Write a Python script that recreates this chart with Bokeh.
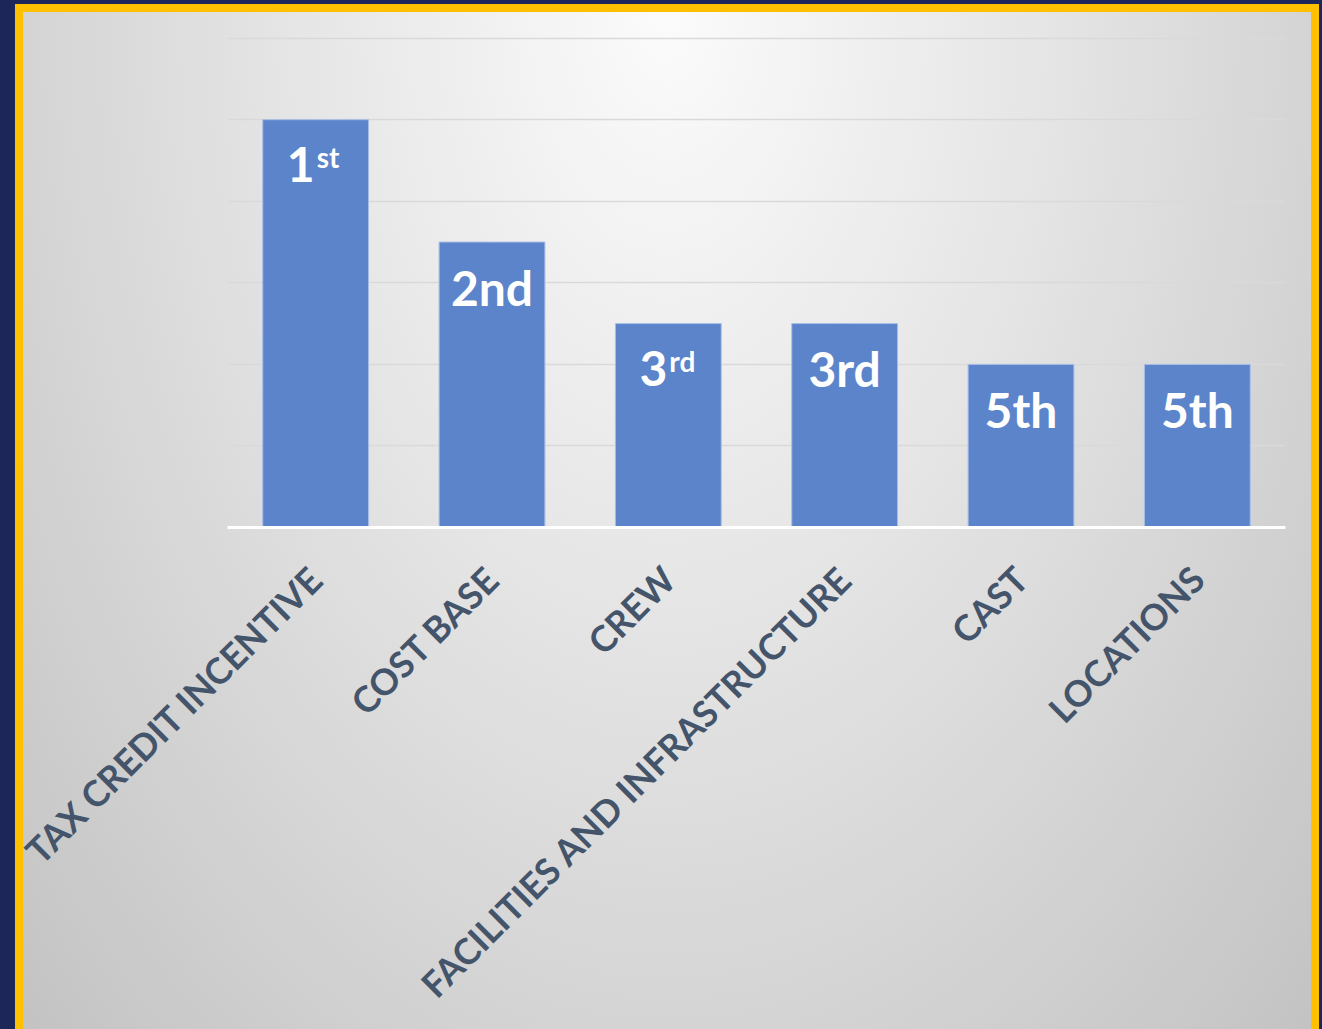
import math
from bokeh.plotting import figure
from bokeh.models import ColumnDataSource, FactorRange, Range1d, FixedTicker
from bokeh.core.properties import value
from bokeh.embed import file_html
from bokeh.resources import INLINE

categories = ["TAX CREDIT INCENTIVE", "COST BASE", "CREW",
              "FACILITIES AND INFRASTRUCTURE", "CAST", "LOCATIONS"]
values = [5, 3.5, 2.5, 2.5, 2, 2]
rank_main = ["1", "2nd", "3", "3rd", "5th", "5th"]
rank_sup = ["st", "", "rd", "", "", ""]
grid_ticks = [1, 2, 3, 4, 5, 6]

has_sup = [s != "" for s in rank_sup]
src = ColumnDataSource(dict(
    cat=categories, val=values, main=rank_main, sup=rank_sup,
    align=["right" if h else "center" for h in has_sup],
    xoff=[-1 if h else 0 for h in has_sup],
))

W, H = 1322, 1029
bg = ("radial-gradient(ellipse farthest-corner at 50% 0%, #FBFBFB 0%, #E6E6E6 40%, #C3C3C3 100%) "
      "23px 12px / 1288px 1017px no-repeat, "
      "linear-gradient(#FFC000, #FFC000) 15px 4px / 1304px 1025px no-repeat, "
      "#1C2659")

p = figure(width=W, height=H, x_range=FactorRange(*categories, range_padding=0),
           y_range=Range1d(0, 6.02), output_backend="svg", toolbar_location=None,
           min_border_left=227, min_border_right=37, min_border_top=36,
           min_border_bottom=502,
           styles={"background": bg})
p.background_fill_alpha = 0
p.border_fill_alpha = 0
p.outline_line_color = None

p.vbar(x="cat", top="val", width=0.6, source=src,
       fill_color="#5B84CA", line_color="#A9BEE6", line_width=1)

p.text(x="cat", y="val", text="main", source=src,
       text_align="align", text_baseline="alphabetic", x_offset="xoff", y_offset=45,
       text_font=value("Lato"), text_font_style="bold", text_font_size="48px",
       text_color="white")
p.text(x="cat", y="val", text="sup", source=src,
       text_align="left", text_baseline="alphabetic", x_offset=1, y_offset=37,
       text_font=value("Lato"), text_font_style="bold", text_font_size="28px",
       text_color="white")

p.yaxis.visible = False
p.xgrid.grid_line_color = None
p.ygrid.ticker = FixedTicker(ticks=grid_ticks)
p.ygrid.grid_line_color = "#D9D9D9"
p.ygrid.grid_line_width = 1.5

ax = p.xaxis[0]
ax.axis_line_color = "white"
ax.axis_line_width = 3
ax.major_tick_line_color = None
ax.minor_tick_line_color = None
ax.major_label_orientation = math.pi / 4
ax.major_label_text_font = "Lato"
ax.major_label_text_font_style = "bold"
ax.major_label_text_font_size = "36px"
ax.major_label_text_color = "#44546A"
ax.major_label_standoff = 39

open("out.html", "w").write(file_html(p, INLINE))
